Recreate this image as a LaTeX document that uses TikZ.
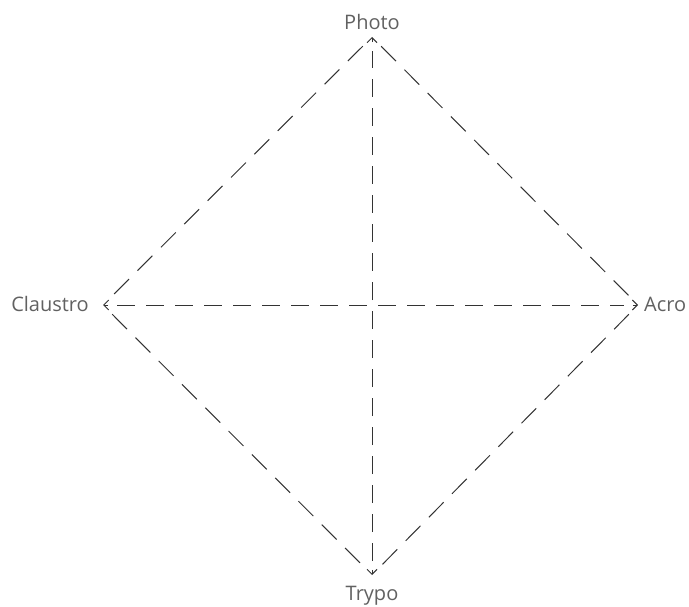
\documentclass[tikz,border=0pt]{standalone}
\usepackage{fontspec}
\setmainfont{Open Sans}
\usetikzlibrary{arrows.meta}

\begin{document}
\begin{tikzpicture}[
    x=1pt, y=-1pt,
    every node/.style={font=\fontsize{20}{24}\selectfont, text=black!62, inner sep=0pt},
    axis/.style={dash pattern=on 18pt off 11pt, line width=1pt, draw=black!80, shorten <=14pt, shorten >=14pt},
    tip/.style={-{Straight Barb[length=5pt,width=10pt]}, line width=1pt, draw=black!80},
    side/.style={dash pattern=on 21pt off 12pt, line width=1pt, draw=black!80, shorten <=13pt, shorten >=13pt}
]
\useasboundingbox (0,0) rectangle (689,607);
% corners of the diamond
\coordinate (top) at (372,37);
\coordinate (left) at (103,305);
\coordinate (right) at (638,305);
\coordinate (bottom) at (372,575);
% labels
\node[anchor=base] (photo) at (372,30) {Photo};
\node[anchor=base east] (claustro) at (89,312) {Claustro};
\node[anchor=base west] (acro) at (644,312) {Acro};
\node[anchor=base] (trypo) at (372,600) {Trypo};
% axes
\draw[axis] (bottom) -- (top);
\draw[axis] (left) -- (right);
% arrow heads
\draw[tip] (top) ++(0,5.2) -- (top);
\draw[tip] (bottom) ++(0,-5.2) -- (bottom);
\draw[tip] (left) ++(5.2,0) -- (left);
\draw[tip] (right) ++(-5.2,0) -- (right);
% sides
\draw[side] (top) -- (left);
\draw[side] (top) -- (right);
\draw[side] (left) -- (bottom);
\draw[side] (right) -- (bottom);
\end{tikzpicture}
\end{document}
